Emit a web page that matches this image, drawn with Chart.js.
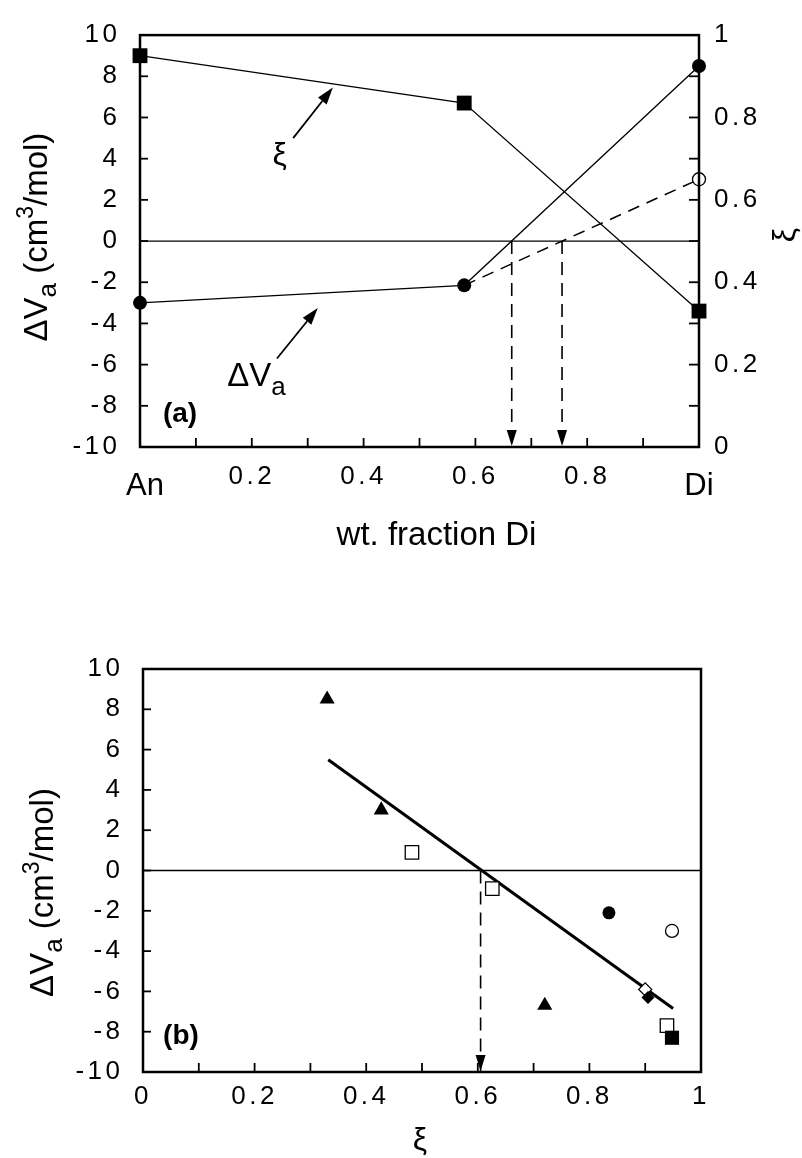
<!DOCTYPE html>
<html>
<head>
<meta charset="utf-8">
<script src="https://cdn.jsdelivr.net/npm/chart.js@4.4.1/dist/chart.umd.min.js"></script>
<style>
  body { margin: 0; background: #fff; }
  canvas { position: absolute; left: 0; }
  #chartA { top: 0; }
  #chartB { top: 600px; }
</style>
</head>
<body>
<canvas id="chartA" width="802" height="600"></canvas>
<canvas id="chartB" width="802" height="558"></canvas>
<script>
// (a) values against wt. fraction Di
const wtFrac = [0, 0.58, 1];
const xiA = [0.95, 0.835, 0.33];
const dVaA = [-3.0, -2.15, 8.5];
const dVaOpenX = [0.58, 1];
const dVaOpenY = [-2.15, 3.0];
const dropsA = [0.665, 0.755];

// (b) dVa against xi
const triX = [0.33, 0.427, 0.72];
const triY = [8.5, 3.0, -6.7];
const openSqX = [0.482, 0.626, 0.939];
const openSqY = [0.9, -0.9, -7.7];
const fillSqX = [0.948];
const fillSqY = [-8.3];
const fillCircX = [0.835];
const fillCircY = [-2.1];
const openCircX = [0.948];
const openCircY = [-3.0];
const openDiaX = [0.90];
const openDiaY = [-5.9];
const fillDiaX = [0.905];
const fillDiaY = [-6.3];
const fitX = [0.332, 0.95];
const fitY = [5.5, -6.85];
const dropsB = [0.605];

const FONT = '"Liberation Sans", Arial, Helvetica, sans-serif';
Chart.defaults.font.family = FONT;
Chart.defaults.color = '#000';
Chart.defaults.animation = false;
Chart.defaults.events = [];
Chart.defaults.plugins.legend.display = false;
Chart.defaults.plugins.tooltip.enabled = false;

const pts = (xs, ys) => xs.map((x, i) => ({ x, y: ys[i] }));

function evenLabel(v, first, last) {
  const r = Math.round(v * 10);
  if (r % 2 !== 0) return '';
  if (r === 0) return first;
  if (r === 10) return last;
  return (r / 10).toFixed(1);
}

function linScale(min, max, step, cb, pad, extra) {
  return Object.assign({
    type: 'linear', min, max,
    grid: { display: false, drawTicks: false },
    border: { display: false },
    ticks: { stepSize: step, autoSkip: false, maxRotation: 0, padding: pad, font: { size: 26 }, callback: cb }
  }, extra);
}

function marker(style, r, filled, extra) {
  return Object.assign({
    showLine: false,
    clip: false,
    pointStyle: style,
    pointRadius: r,
    pointBackgroundColor: filled ? '#000' : '#fff',
    pointBorderColor: '#000',
    pointBorderWidth: filled ? 0 : 1.3
  }, extra);
}

function lineSet(data, width, dash, extra) {
  return Object.assign({
    data, showLine: true, clip: false, borderColor: '#000', borderWidth: width,
    borderDash: dash || [], pointRadius: 0
  }, extra);
}

// text made of runs: [text, size, dy, weight]
function rich(ctx, runs, x, y, align) {
  let w = 0;
  runs.forEach(r => { ctx.font = (r[3] || '') + ' ' + r[1] + 'px ' + FONT; w += ctx.measureText(r[0]).width; });
  let cx = align === 'left' ? x : x - w / 2;
  ctx.textAlign = 'left';
  ctx.textBaseline = 'alphabetic';
  runs.forEach(r => {
    ctx.font = (r[3] || '') + ' ' + r[1] + 'px ' + FONT;
    ctx.fillText(r[0], cx, y + (r[2] || 0));
    cx += ctx.measureText(r[0]).width;
  });
}

function rotated(ctx, runs, x, y) {
  ctx.save();
  ctx.translate(x, y);
  ctx.rotate(-Math.PI / 2);
  rich(ctx, runs, 0, 0, 'center');
  ctx.restore();
}

function arrow(ctx, x1, y1, x2, y2, len, half) {
  const ang = Math.atan2(y2 - y1, x2 - x1);
  const bx = x2 - len * Math.cos(ang), by = y2 - len * Math.sin(ang);
  ctx.beginPath();
  ctx.moveTo(x1, y1);
  ctx.lineTo(bx, by);
  ctx.stroke();
  ctx.beginPath();
  ctx.moveTo(x2, y2);
  ctx.lineTo(bx + half * Math.sin(ang), by - half * Math.cos(ang));
  ctx.lineTo(bx - half * Math.sin(ang), by + half * Math.cos(ang));
  ctx.closePath();
  ctx.fill();
}

const dvTitle = [['ΔV', 33], ['a', 26, 9], [' (cm', 33], ['3', 23, -14], ['/mol)', 33]];

const deco = {
  id: 'deco',
  beforeDraw(chart) { chart.ctx.letterSpacing = '3.5px'; },
  afterDraw(chart, args, o) {
    const ctx = chart.ctx, a = chart.chartArea;
    const sx = chart.scales.x, sy = chart.scales.y;
    ctx.save();
    ctx.letterSpacing = '0px';
    ctx.strokeStyle = '#000';
    ctx.fillStyle = '#000';
    ctx.lineWidth = 1.8;
    Object.values(chart.scales).forEach(s => {
      s.ticks.forEach(t => {
        const p = s.getPixelForValue(t.value);
        ctx.beginPath();
        if (s.axis === 'x') { ctx.moveTo(p, a.bottom); ctx.lineTo(p, a.bottom - 9); }
        else if (s.position === 'left') { ctx.moveTo(a.left, p); ctx.lineTo(a.left + 8, p); }
        else { ctx.moveTo(a.right, p); ctx.lineTo(a.right - 10, p); }
        ctx.stroke();
      });
    });
    ctx.lineWidth = 2.5;
    ctx.strokeRect(a.left, a.top, a.right - a.left, a.bottom - a.top);

    // arrow heads of the dashed drops
    o.drops.forEach(v => {
      const px = sx.getPixelForValue(v), py = sy.getPixelForValue(-10) - 1;
      ctx.beginPath();
      ctx.moveTo(px, py);
      ctx.lineTo(px - 5, py - 16);
      ctx.lineTo(px + 5, py - 16);
      ctx.closePath();
      ctx.fill();
    });

    ctx.lineWidth = 1.8;
    (o.arrows || []).forEach(r => arrow(ctx,
      sx.getPixelForValue(r[0]), sy.getPixelForValue(r[1]),
      sx.getPixelForValue(r[2]), sy.getPixelForValue(r[3]), 17, 5.5));
    (o.notes || []).forEach(n => rich(ctx, n.runs,
      sx.getPixelForValue(n.x), sy.getPixelForValue(n.y), n.align));

    o.titles(ctx, a, sx);
    ctx.restore();
  }
};

new Chart(document.getElementById('chartA'), {
  type: 'scatter',
  data: {
    datasets: [
      lineSet(pts(wtFrac, xiA), 1.3, null, { yAxisID: 'y1', pointStyle: 'rect', pointRadius: 10.5, pointBackgroundColor: '#000', pointBorderWidth: 0 }),
      lineSet(pts(wtFrac, dVaA), 1.3, null, { pointStyle: 'circle', pointRadius: 7, pointBackgroundColor: '#000', pointBorderWidth: 0 }),
      lineSet(pts(dVaOpenX, dVaOpenY), 1.5, [12, 8], { pointRadius: [0, 6.5], pointBackgroundColor: '#fff', pointBorderColor: '#000', pointBorderWidth: 1.3 }),
      ...dropsA.map(v => lineSet(pts([v, v], [0, -10]), 1.6, [13, 8])),
      lineSet(pts([0, 1], [0, 0]), 1.3)
    ]
  },
  options: {
    responsive: false,
    layout: { padding: { top: 29 } },
    scales: {
      x: linScale(0, 1, 0.1, v => evenLabel(v, '', ''), 14, { afterFit: s => { s.height = 153; } }),
      y: linScale(-10, 10, 2, v => String(v), 19.5, { afterFit: s => { s.width = 140; } }),
      y1: linScale(0, 1, 0.1, v => evenLabel(v, '0', '1'), 15, { position: 'right', afterFit: s => { s.width = 103; } })
    },
    plugins: {
      deco: {
        drops: dropsA,
        arrows: [[0.274, 5.0, 0.345, 7.45], [0.245, -5.7, 0.318, -3.25]],
        notes: [
          { runs: [['ξ', 32]], x: 0.25, y: 3.7, align: 'center' },
          { runs: [['ΔV', 33], ['a', 26, 9]], x: 0.156, y: -7.03, align: 'left' },
          { runs: [['(a)', 28, 0, 'bold']], x: 0.041, y: -8.8, align: 'left' }
        ],
        titles(ctx, a, sx) {
          const my = (a.top + a.bottom) / 2;
          rotated(ctx, dvTitle, a.left - 93, my - 4);
          rotated(ctx, [['ξ', 32]], a.right + 96, my - 6);
          rich(ctx, [['wt. fraction Di', 33]], (a.left + a.right) / 2 + 17, a.bottom + 98, 'center');
          rich(ctx, [['An', 31]], sx.getPixelForValue(0) + 5, a.bottom + 48, 'center');
          rich(ctx, [['Di', 31]], sx.getPixelForValue(1), a.bottom + 48, 'center');
        }
      }
    }
  },
  plugins: [deco]
});

new Chart(document.getElementById('chartB'), {
  type: 'scatter',
  data: {
    datasets: [
      marker('rectRot', 6.5, true, { data: pts(fillDiaX, fillDiaY) }),
      marker('rectRot', 6.5, false, { data: pts(openDiaX, openDiaY) }),
      marker('rect', 10, true, { data: pts(fillSqX, fillSqY) }),
      marker('rect', 9.5, false, { data: pts(openSqX, openSqY) }),
      marker('triangle', 8.7, true, { data: pts(triX, triY) }),
      marker('circle', 6.5, true, { data: pts(fillCircX, fillCircY) }),
      marker('circle', 6.5, false, { data: pts(openCircX, openCircY) }),
      lineSet(pts(fitX, fitY), 3),
      ...dropsB.map(v => lineSet(pts([v, v], [0, -10]), 1.6, [13, 8])),
      lineSet(pts([0, 1], [0, 0]), 1.3)
    ]
  },
  options: {
    responsive: false,
    layout: { padding: { top: 69, right: 101 } },
    scales: {
      x: linScale(0, 1, 0.1, v => evenLabel(v, '0', '1'), 9.5, { afterFit: s => { s.height = 86; } }),
      y: linScale(-10, 10, 2, v => String(v), 19.5, { afterFit: s => { s.width = 143; } })
    },
    plugins: {
      deco: {
        drops: dropsB,
        notes: [
          { runs: [['(b)', 28, 0, 'bold']], x: 0.036, y: -8.6, align: 'left' }
        ],
        titles(ctx, a) {
          rotated(ctx, dvTitle, a.left - 90, (a.top + a.bottom) / 2 + 22);
          rich(ctx, [['ξ', 32]], (a.left + a.right) / 2 - 2, a.bottom + 78, 'center');
        }
      }
    }
  },
  plugins: [deco]
});
</script>
</body>
</html>
